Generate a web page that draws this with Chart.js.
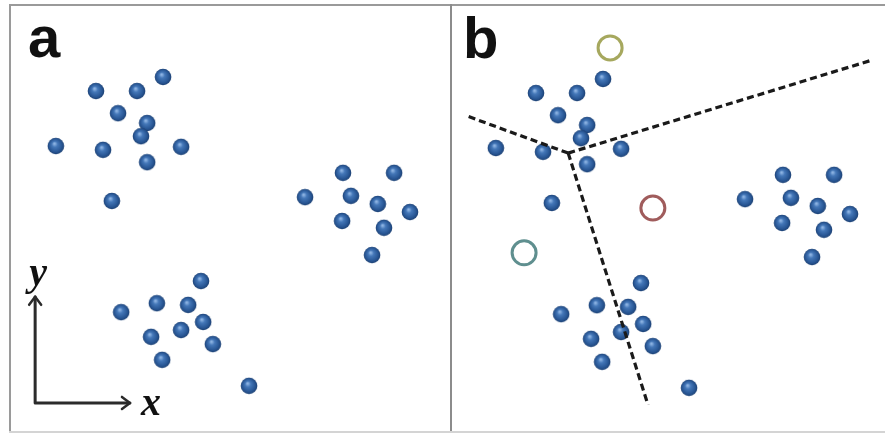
<!DOCTYPE html>
<html>
<head>
<meta charset="utf-8">
<script src="https://cdn.jsdelivr.net/npm/chart.js@4.4.1/dist/chart.umd.min.js"></script>
<style>
  html, body { margin: 0; padding: 0; background: #fff; }
  body { width: 885px; height: 434px; overflow: hidden; position: relative; }
  .panel { position: absolute; width: 441px; height: 426px; }
  .rule { position: absolute; background: #9a9a9a; z-index: 5; }
</style>
</head>
<body>
<div class="panel" style="left:10px; top:5px;"><canvas id="panelA"></canvas></div>
<div class="panel" style="left:450px; top:7px;"><canvas id="panelB"></canvas></div>
<div class="rule" style="left:9px; top:4px; width:876px; height:2px;"></div>
<div class="rule" style="left:9px; top:4px; width:2px; height:428px;"></div>
<div class="rule" style="left:450px; top:4px; width:2px; height:428px; background:#8c8c8c;"></div>
<div class="rule" style="left:9px; top:431px; width:876px; height:2px; background:#d4d4d4;"></div>
<script>
// =============================================================================
// DATA (panel units: 0..100 across, 0..100 up)

const clusterTopX = [34.7, 19.5, 28.8, 24.5, 31.1, 29.7, 10.4, 21.1, 38.8, 31.1, 23.1];
const clusterTopY = [83.1, 79.8, 79.8, 74.6, 72.3, 69.2, 66.9, 66.0, 66.7, 63.1, 54.0];

const clusterRightX = [75.5, 87.1, 66.9, 77.3, 83.4, 90.7, 75.3, 84.8, 82.1];
const clusterRightY = [60.6, 60.6, 54.9, 55.2, 53.3, 51.4, 49.3, 47.7, 41.3];

const clusterBottomX = [43.3, 25.2, 33.3, 40.4, 43.8, 32.0, 38.8, 46.0, 34.5, 54.2];
const clusterBottomY = [35.2, 27.9, 30.0, 29.6, 25.6, 22.1, 23.7, 20.4, 16.7, 10.6];

// open circles in panel b
const centroidX = [36.3, 46.0, 16.8];
const centroidY = [90.4, 52.8, 42.3];
const centroidColors = ["#a6a85e", "#a05c5c", "#5f8f8f"];

// dashed boundaries in panel b: junction and the three far ends
const boundaryJunction = [26.8, 65.7];
const boundaryEndsX = [3.9, 95.9, 44.9];
const boundaryEndsY = [74.4, 87.6, 6.6];

// coordinate arrows in panel a
const axisCorner = [5.7, 6.6];
const axisTipX = 27.2;
const axisTipY = 31.5;

// =============================================================================

const toPoints = (xs, ys) => xs.map((x, i) => ({ x, y: ys[i] }));

// shaded blue ball used as the point style
const makeBall = () => {
  const c = document.createElement("canvas");
  c.width = 18;
  c.height = 18;
  const g = c.getContext("2d");
  const grad = g.createRadialGradient(7.5, 6.5, 0.5, 9, 9, 8.5);
  grad.addColorStop(0, "#8fb5e4");
  grad.addColorStop(0.3, "#4477b8");
  grad.addColorStop(0.75, "#285694");
  grad.addColorStop(1, "#1c3f70");
  g.fillStyle = grad;
  g.beginPath();
  g.arc(9, 9, 8.3, 0, Math.PI * 2);
  g.fill();
  return c;
};
const ball = makeBall();

const blueDataset = (xs, ys) => ({
  data: toPoints(xs, ys),
  pointStyle: ball,
  pointRadius: 9,
  showLine: false,
});

const baseOptions = (extraPlugins) => ({
  responsive: true,
  maintainAspectRatio: false,
  animation: false,
  events: [],
  layout: { padding: 0, autoPadding: false },
  plugins: { legend: { display: false }, tooltip: { enabled: false }, ...extraPlugins },
  scales: {
    x: { type: "linear", min: 0, max: 100, display: false },
    y: { type: "linear", min: 0, max: 100, display: false },
  },
});

// panel letter ("a" / "b") drawn as canvas text
const panelLetter = {
  id: "panelLetter",
  afterDraw(chart, args, opts) {
    const ctx = chart.ctx;
    ctx.save();
    ctx.fillStyle = "#111";
    ctx.font = "bold 58px 'Liberation Sans', Arial, sans-serif";
    ctx.textBaseline = "alphabetic";
    ctx.fillText(opts.text, opts.left, opts.baseline);
    ctx.restore();
  },
};

// x / y arrows in the lower-left corner of panel a
const axisArrows = {
  id: "axisArrows",
  afterDatasetsDraw(chart) {
    const { ctx, scales } = chart;
    const x0 = scales.x.getPixelForValue(axisCorner[0]);
    const y0 = scales.y.getPixelForValue(axisCorner[1]);
    const xTip = scales.x.getPixelForValue(axisTipX);
    const yTip = scales.y.getPixelForValue(axisTipY);
    ctx.save();
    ctx.strokeStyle = "#2b2b2b";
    ctx.lineWidth = 3;
    ctx.lineCap = "round";
    ctx.lineJoin = "round";
    ctx.beginPath();
    ctx.moveTo(x0, yTip);
    ctx.lineTo(x0, y0);
    ctx.lineTo(xTip, y0);
    ctx.stroke();
    // arrow heads
    ctx.lineWidth = 2.5;
    ctx.beginPath();
    ctx.moveTo(x0 - 6, yTip + 8);
    ctx.lineTo(x0, yTip);
    ctx.lineTo(x0 + 6, yTip + 8);
    ctx.moveTo(xTip - 8, y0 - 6);
    ctx.lineTo(xTip, y0);
    ctx.lineTo(xTip - 8, y0 + 6);
    ctx.stroke();
    ctx.fillStyle = "#111";
    ctx.font = "italic bold 40px 'Liberation Serif', 'Times New Roman', serif";
    ctx.textAlign = "center";
    ctx.textBaseline = "alphabetic";
    ctx.fillText("y", x0 + 3, yTip - 12);
    ctx.fillText("x", xTip + 21, y0 + 12);
    ctx.restore();
  },
};

const blueSets = () => [
  blueDataset(clusterTopX, clusterTopY),
  blueDataset(clusterRightX, clusterRightY),
  blueDataset(clusterBottomX, clusterBottomY),
];

new Chart(document.getElementById("panelA"), {
  type: "scatter",
  data: { datasets: blueSets() },
  options: baseOptions({ panelLetter: { text: "a", left: 18, baseline: 52 } }),
  plugins: [panelLetter, axisArrows],
});

const boundarySets = boundaryEndsX.map((ex, i) => ({
  data: [
    { x: boundaryJunction[0], y: boundaryJunction[1] },
    { x: ex, y: boundaryEndsY[i] },
  ],
  showLine: true,
  borderColor: "#1a1a1a",
  borderWidth: 3.2,
  borderDash: [7, 4],
  pointRadius: 0,
  fill: false,
}));

const centroidSet = {
  data: toPoints(centroidX, centroidY),
  pointStyle: "circle",
  pointRadius: 12,
  pointBorderWidth: 3,
  pointBackgroundColor: "rgba(0,0,0,0)",
  pointBorderColor: centroidColors,
  showLine: false,
};

new Chart(document.getElementById("panelB"), {
  type: "scatter",
  data: { datasets: [...boundarySets, ...blueSets(), centroidSet] },
  options: baseOptions({ panelLetter: { text: "b", left: 13, baseline: 51 } }),
  plugins: [panelLetter],
});
</script>
</body>
</html>
